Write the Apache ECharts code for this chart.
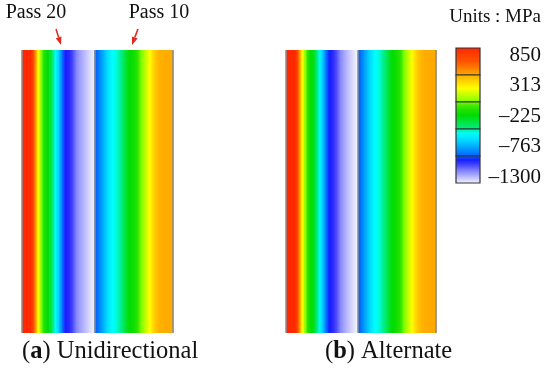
<!DOCTYPE html>
<html>
<head>
<meta charset="utf-8">
<script src="https://cdn.jsdelivr.net/npm/echarts@6/dist/echarts.min.js"></script>
<style>
  html, body { margin: 0; background: #fff; }
  #chart { width: 550px; height: 372px; }
</style>
</head>
<body>
<div id="chart"></div>
<script>
// residual stress across the weld (MPa), sampled left -> right
const uniPass20 = [850, 850, 850, 830, 600, 280, 60, -120, -200, -260, -400, -530, -640,
  -800, -930, -960, -980, -1040, -1110, -1150, -1180, -1210, -1240, -1270, -1290];
const uniPass10 = [-880, -830, -760, -700, -620, -560, -520, -500, -470, -420, -330, -250,
  -210, -180, -120, -40, 40, 120, 200, 270, 340, 390, 410, 420, 420, 425, 425];
const altPass20 = [850, 850, 850, 840, 620, 300, 80, -100, -190, -250, -380, -520, -630,
  -790, -920, -960, -990, -1040, -1110, -1150, -1190, -1220, -1250, -1280, -1295];
const altPass10 = [-870, -820, -750, -680, -610, -550, -515, -495, -460, -400, -320, -240,
  -200, -170, -110, -30, 60, 140, 220, 290, 350, 395, 415, 420, 425, 425, 425];

const legendBands = [850, 420, -10, -440, -870, -1300];
const legendLabels = ['850', '313', '\u2013225', '\u2013763', '\u20131300'];
const passLabels = ['Pass 20', 'Pass 10'];
const captions = [['a', 'Unidirectional'], ['b', 'Alternate']];

const colorStops = [
  [850, '#ff2800'], [640, '#ff5200'], [430, '#ffa800'], [320, '#ffd000'],
  [210, '#ffff00'], [0, '#80ff00'], [-100, '#30e400'], [-220, '#00dc00'],
  [-440, '#00ee88'], [-520, '#00ffff'], [-650, '#00ccff'], [-870, '#0060ff'],
  [-950, '#1a1aff'], [-1100, '#8080ff'], [-1300, '#f6f6ff']
];

function hexRgb(h) {
  return [1, 3, 5].map(i => parseInt(h.substr(i, 2), 16));
}

function colorAt(v) {
  if (v >= colorStops[0][0]) return colorStops[0][1];
  for (let i = 1; i < colorStops.length; i++) {
    const [v1, c1] = colorStops[i];
    if (v >= v1) {
      const [v0, c0] = colorStops[i - 1];
      const t = (v0 - v) / (v0 - v1);
      const a = hexRgb(c0), b = hexRgb(c1);
      return 'rgb(' + a.map((x, k) => Math.round(x + (b[k] - x) * t)).join(',') + ')';
    }
  }
  return colorStops[colorStops.length - 1][1];
}

function gradient(v0, v1, horizontal) {
  const stops = [];
  for (let k = 0; k <= 6; k++) {
    stops.push({ offset: k / 6, color: colorAt(v0 + (v1 - v0) * k / 6) });
  }
  return horizontal
    ? new echarts.graphic.LinearGradient(0, 0, 1, 0, stops)
    : new echarts.graphic.LinearGradient(0, 0, 0, 1, stops);
}

// segments [x0, x1, v0, v1]; second pass starts where the first ends
function stripes(p20, p10) {
  const out = [];
  const off = p20.length - 1;
  p20.forEach((v, i) => { if (i > 0) out.push([i - 1, i, p20[i - 1], v]); });
  p10.forEach((v, i) => { if (i > 0) out.push([off + i - 1, off + i, p10[i - 1], v]); });
  return out;
}

const xMax = uniPass20.length + uniPass10.length - 2;
const divider = uniPass20.length - 1;

function renderStripe(params, api) {
  const a = api.coord([api.value(0), 1]);
  const b = api.coord([api.value(1), 0]);
  return {
    type: 'rect',
    shape: { x: a[0], y: a[1], width: b[0] - a[0] + 0.6, height: b[1] - a[1] },
    style: { fill: gradient(api.value(2), api.value(3), true) }
  };
}

function renderBand(params, api) {
  const a = api.coord([0, api.value(0)]);
  const b = api.coord([1, api.value(1)]);
  return {
    type: 'rect',
    shape: { x: a[0], y: a[1], width: b[0] - a[0], height: b[1] - a[1] },
    style: { fill: gradient(api.value(0), api.value(1), false), stroke: '#333', lineWidth: 1.2 }
  };
}

const edgeLines = {
  silent: true,
  symbol: 'none',
  label: { show: false },
  lineStyle: { color: '#8c8c8c', width: 1.5, type: 'solid' },
  data: [{ xAxis: 0 }, { xAxis: divider }, { xAxis: xMax }]
};

const serif = 'Liberation Serif';

function arrow(x0, y0, x1, y1) {
  const ang = Math.atan2(y1 - y0, x1 - x0);
  const len = 8, half = 3;
  const bx = x1 - len * Math.cos(ang), by = y1 - len * Math.sin(ang);
  const px = -Math.sin(ang) * half, py = Math.cos(ang) * half;
  return [
    { type: 'line', shape: { x1: x0, y1: y0, x2: bx, y2: by }, style: { stroke: '#e02a1e', lineWidth: 1.6 } },
    { type: 'polygon', shape: { points: [[x1, y1], [bx + px, by + py], [bx - px, by - py]] }, style: { fill: '#e02a1e' } }
  ];
}

const graphics = [
  { type: 'text', x: 36, y: 13, style: { text: passLabels[0], font: '20px ' + serif, fill: '#111', align: 'center', verticalAlign: 'middle' } },
  { type: 'text', x: 159, y: 13, style: { text: passLabels[1], font: '20px ' + serif, fill: '#111', align: 'center', verticalAlign: 'middle' } },
  ...arrow(56, 29, 61, 45),
  ...arrow(138, 29, 132, 45),
  { type: 'text', x: 541, y: 17, style: { text: 'Units : MPa', font: '19px ' + serif, fill: '#111', align: 'right', verticalAlign: 'middle' } },
  ...legendLabels.map((t, i) => ({
    type: 'text', x: 541, y: 55 + i * 30.5,
    style: { text: t, font: '21px ' + serif, fill: '#111', align: 'right', verticalAlign: 'middle' }
  })),
  ...captions.map((c, i) => ({
    type: 'text', x: i === 0 ? 22 : 325, y: 352,
    style: {
      text: '({b|' + c[0] + '}) ' + c[1], font: '24.5px ' + serif, fill: '#111', verticalAlign: 'middle',
      rich: { b: { font: 'bold 24.5px ' + serif, fill: '#111' } }
    }
  }))
];

const chart = echarts.init(document.getElementById('chart'));

chart.setOption({
  animation: false,
  grid: [
    { left: 22, top: 50, width: 151, height: 283 },
    { left: 286, top: 50, width: 150, height: 283 },
    { left: 456, top: 48, width: 24, height: 135 }
  ],
  xAxis: [
    { gridIndex: 0, type: 'value', min: 0, max: xMax, show: false },
    { gridIndex: 1, type: 'value', min: 0, max: xMax, show: false },
    { gridIndex: 2, type: 'value', min: 0, max: 1, show: false }
  ],
  yAxis: [
    { gridIndex: 0, type: 'value', min: 0, max: 1, show: false },
    { gridIndex: 1, type: 'value', min: 0, max: 1, show: false },
    { gridIndex: 2, type: 'value', min: -1300, max: 850, show: false }
  ],
  series: [
    {
      type: 'custom', xAxisIndex: 0, yAxisIndex: 0,
      renderItem: renderStripe, data: stripes(uniPass20, uniPass10), markLine: edgeLines
    },
    {
      type: 'custom', xAxisIndex: 1, yAxisIndex: 1,
      renderItem: renderStripe, data: stripes(altPass20, altPass10), markLine: edgeLines
    },
    {
      type: 'custom', xAxisIndex: 2, yAxisIndex: 2,
      renderItem: renderBand,
      data: legendBands.slice(1).map((lo, i) => [legendBands[i], lo])
    }
  ],
  graphic: graphics
});
</script>
</body>
</html>
